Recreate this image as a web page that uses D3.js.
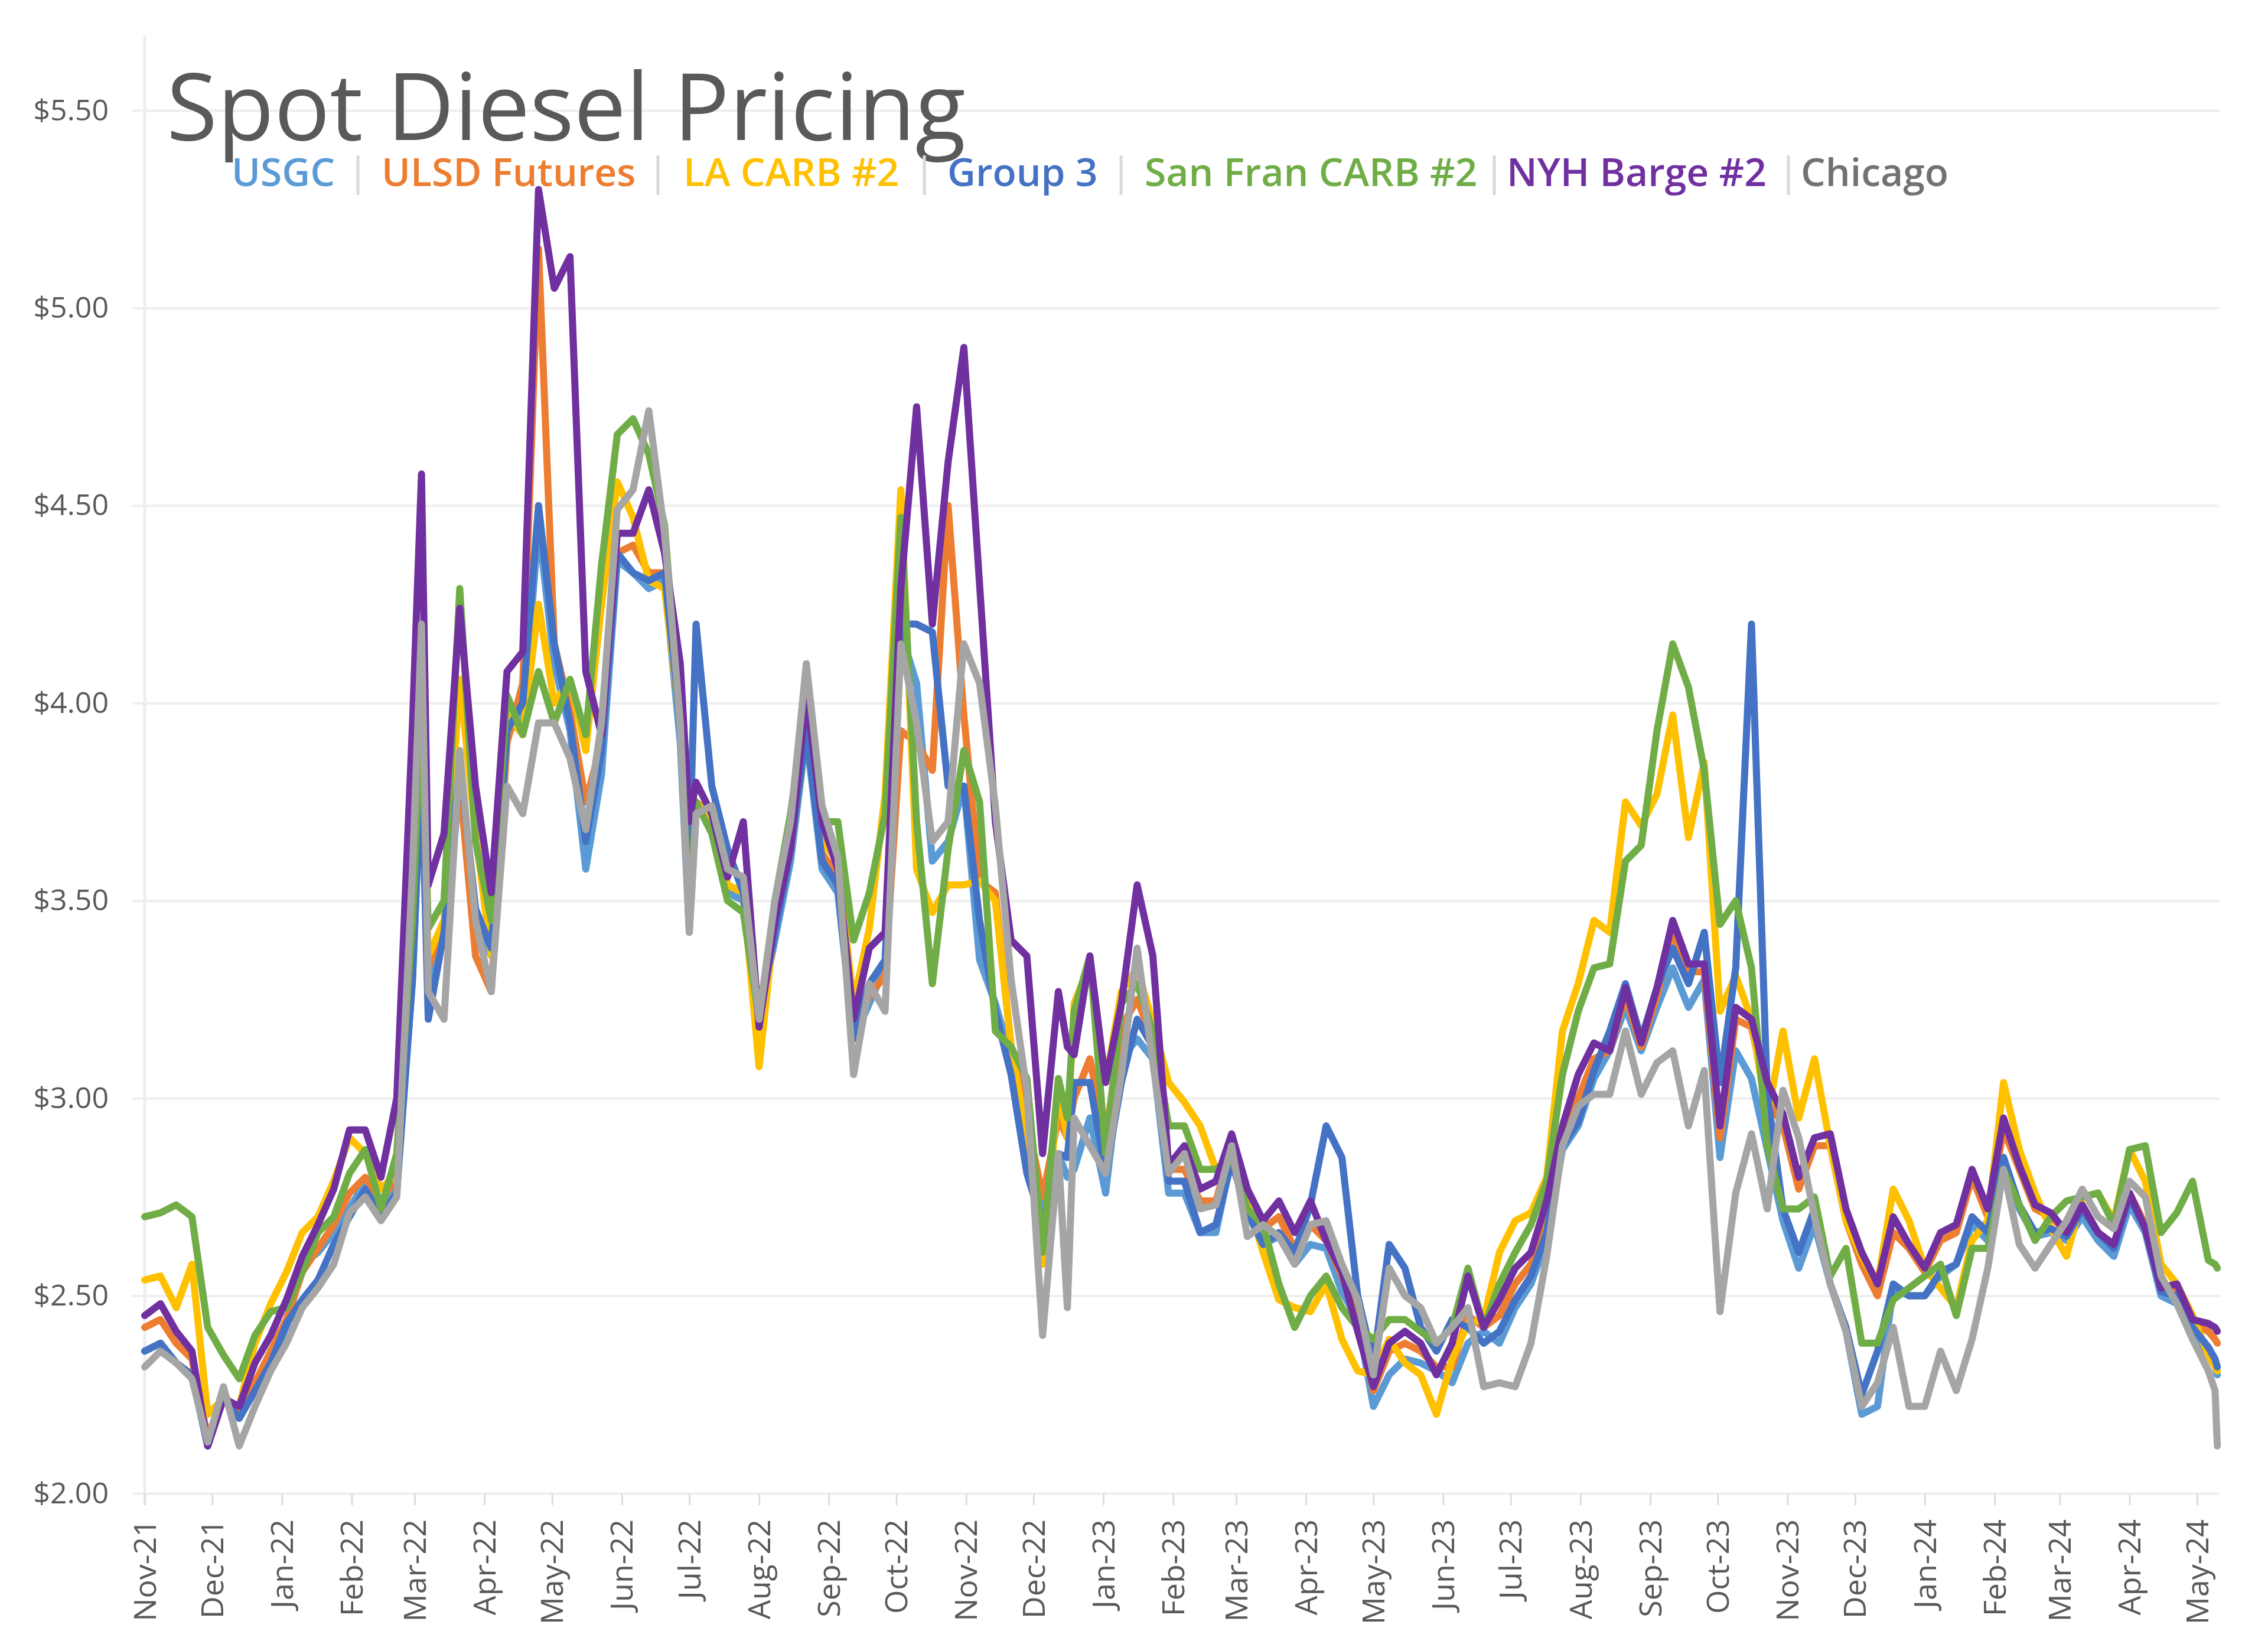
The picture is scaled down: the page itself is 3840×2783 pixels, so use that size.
<!DOCTYPE html>
<html>
<head>
<meta charset="utf-8">
<script src="https://cdn.jsdelivr.net/npm/d3@7"></script>
<style>
  body { margin: 0; background: #fff; }
  svg { display: block; }
</style>
</head>
<body>
<div id="chart"></div>
<script>
// weekly spot prices ($/gal)
const dates = [
  "2021-11-01","2021-11-08","2021-11-15","2021-11-22","2021-11-29",
  "2021-12-06","2021-12-13","2021-12-20","2021-12-27",
  "2022-01-03","2022-01-10","2022-01-17","2022-01-24","2022-01-31",
  "2022-02-07","2022-02-14","2022-02-21","2022-02-28",
  "2022-03-04","2022-03-07","2022-03-14","2022-03-21","2022-03-28",
  "2022-04-04","2022-04-11","2022-04-18","2022-04-25",
  "2022-05-02","2022-05-09","2022-05-16","2022-05-23","2022-05-30",
  "2022-06-06","2022-06-13","2022-06-20","2022-06-27",
  "2022-07-01","2022-07-04","2022-07-11","2022-07-18","2022-07-25",
  "2022-08-01","2022-08-08","2022-08-15","2022-08-22","2022-08-29",
  "2022-09-05","2022-09-12","2022-09-19","2022-09-26",
  "2022-10-03","2022-10-10","2022-10-17","2022-10-24","2022-10-31",
  "2022-11-07","2022-11-14","2022-11-21","2022-11-28",
  "2022-12-05","2022-12-12","2022-12-16","2022-12-19","2022-12-26",
  "2023-01-02","2023-01-09","2023-01-16","2023-01-23","2023-01-30",
  "2023-02-06","2023-02-13","2023-02-20","2023-02-27",
  "2023-03-06","2023-03-13","2023-03-20","2023-03-27",
  "2023-04-03","2023-04-10","2023-04-17","2023-04-24",
  "2023-05-01","2023-05-08","2023-05-15","2023-05-22","2023-05-29",
  "2023-06-05","2023-06-12","2023-06-19","2023-06-26",
  "2023-07-03","2023-07-10","2023-07-17","2023-07-24","2023-07-31",
  "2023-08-07","2023-08-14","2023-08-21","2023-08-28",
  "2023-09-04","2023-09-11","2023-09-18","2023-09-25",
  "2023-10-02","2023-10-09","2023-10-16","2023-10-23","2023-10-30",
  "2023-11-06","2023-11-13","2023-11-20","2023-11-27",
  "2023-12-04","2023-12-11","2023-12-18","2023-12-25",
  "2024-01-01","2024-01-08","2024-01-15","2024-01-22","2024-01-29",
  "2024-02-05","2024-02-12","2024-02-19","2024-02-26",
  "2024-03-04","2024-03-11","2024-03-18","2024-03-25",
  "2024-04-01","2024-04-08","2024-04-15","2024-04-22","2024-04-29",
  "2024-05-06","2024-05-09","2024-05-10"
];

const usgc = [
  2.36,2.38,2.33,2.30,2.12,
  2.24,2.19,2.26,2.33,
  2.42,2.58,2.61,2.66,2.72,
  2.79,2.72,2.78,3.30,
  3.85,3.29,3.40,3.79,3.45,
  3.36,3.93,3.95,4.45,
  4.10,3.93,3.58,3.82,4.36,
  4.33,4.29,4.31,3.90,
  3.42,3.72,3.72,3.52,3.50,
  3.20,3.40,3.60,3.92,3.58,
  3.52,3.15,3.24,3.33,
  4.18,4.05,3.60,3.65,3.79,
  3.35,3.24,3.10,2.83,
  2.72,2.86,2.80,2.82,2.95,
  2.76,3.10,3.15,3.10,2.76,
  2.76,2.66,2.66,2.85,
  2.71,2.63,2.65,2.58,
  2.63,2.62,2.51,2.44,
  2.22,2.30,2.34,2.33,2.31,
  2.28,2.38,2.41,2.38,
  2.47,2.53,2.64,2.87,2.93,
  3.05,3.12,3.23,3.12,
  3.23,3.33,3.23,3.30,
  2.85,3.12,3.05,2.87,2.69,
  2.57,2.68,2.53,2.41,
  2.20,2.22,2.52,2.50,
  2.50,2.55,2.58,2.68,2.64,
  2.85,2.72,2.65,2.66,
  2.64,2.70,2.64,2.60,
  2.73,2.66,2.50,2.48,2.40,
  2.35,2.32,2.30
];

const ulsdFutures = [
  2.42,2.44,2.38,2.34,2.14,
  2.25,2.20,2.28,2.36,
  2.44,2.56,2.62,2.68,2.76,
  2.80,2.74,2.80,3.35,
  3.90,3.33,3.45,3.80,3.36,
  3.27,3.90,4.05,5.15,
  4.15,3.98,3.75,3.90,4.38,
  4.40,4.33,4.33,3.95,
  3.45,3.75,3.72,3.54,3.52,
  3.22,3.45,3.63,3.95,3.62,
  3.56,3.17,3.26,3.31,
  3.93,3.90,3.83,4.50,3.97,
  3.55,3.52,3.13,2.95,
  2.75,2.95,2.90,3.00,3.10,
  2.90,3.18,3.25,3.15,2.82,
  2.82,2.74,2.74,2.88,
  2.74,2.67,2.70,2.62,
  2.68,2.64,2.55,2.44,
  2.26,2.36,2.38,2.36,2.32,
  2.32,2.45,2.42,2.45,
  2.53,2.58,2.70,2.90,3.00,
  3.10,3.12,3.26,3.13,
  3.26,3.42,3.32,3.32,
  2.90,3.20,3.18,3.00,2.93,
  2.77,2.88,2.88,2.69,
  2.58,2.50,2.66,2.62,
  2.56,2.64,2.66,2.80,2.70,
  2.92,2.82,2.72,2.70,
  2.66,2.73,2.66,2.63,
  2.76,2.68,2.52,2.52,2.43,
  2.41,2.39,2.38
];

const laCarb = [
  2.54,2.55,2.47,2.58,2.20,
  2.24,2.22,2.38,2.48,
  2.56,2.66,2.70,2.79,2.90,
  2.86,2.77,2.81,3.40,
  3.90,3.36,3.45,4.06,3.67,
  3.36,3.97,3.92,4.25,
  4.00,4.06,3.88,4.25,4.56,
  4.47,4.31,4.29,3.95,
  3.45,3.75,3.70,3.54,3.52,
  3.08,3.45,3.63,3.93,3.65,
  3.60,3.24,3.43,3.77,
  4.54,3.58,3.47,3.54,3.54,
  3.55,3.50,3.13,2.90,
  2.58,3.02,2.90,3.24,3.34,
  3.04,3.27,3.33,3.19,3.04,
  2.99,2.93,2.82,2.85,
  2.74,2.61,2.49,2.47,
  2.46,2.53,2.39,2.31,
  2.30,2.39,2.33,2.30,2.20,
  2.34,2.43,2.44,2.61,
  2.69,2.71,2.80,3.17,3.29,
  3.45,3.42,3.75,3.69,
  3.77,3.97,3.66,3.85,
  3.22,3.31,3.20,2.95,3.17,
  2.95,3.10,2.88,2.69,
  2.60,2.53,2.77,2.69,
  2.57,2.52,2.47,2.64,2.69,
  3.04,2.87,2.76,2.67,
  2.60,2.75,2.76,2.69,
  2.87,2.79,2.58,2.53,2.45,
  2.35,2.32,2.31
];

const group3 = [
  2.36,2.38,2.33,2.30,2.12,
  2.24,2.19,2.26,2.33,
  2.43,2.49,2.54,2.63,2.70,
  2.77,2.70,2.76,3.30,
  3.85,3.20,3.42,3.85,3.48,
  3.38,3.93,4.00,4.50,
  4.15,3.95,3.65,3.88,4.38,
  4.33,4.31,4.33,3.95,
  3.60,4.20,3.79,3.63,3.52,
  3.20,3.42,3.63,3.93,3.60,
  3.54,3.15,3.29,3.35,
  4.20,4.20,4.18,3.79,3.79,
  3.45,3.22,3.06,2.81,
  2.68,2.86,2.85,3.04,3.04,
  2.81,3.04,3.20,3.13,2.79,
  2.79,2.66,2.68,2.84,
  2.71,2.63,2.66,2.61,
  2.73,2.93,2.85,2.50,
  2.33,2.63,2.57,2.42,2.36,
  2.44,2.42,2.38,2.41,
  2.49,2.55,2.66,2.88,2.94,
  3.07,3.17,3.29,3.15,
  3.28,3.38,3.29,3.42,
  3.04,3.33,4.20,3.01,2.72,
  2.61,2.72,2.53,2.42,
  2.25,2.36,2.53,2.50,
  2.50,2.56,2.58,2.70,2.66,
  2.85,2.73,2.66,2.67,
  2.65,2.72,2.66,2.62,
  2.75,2.67,2.51,2.50,2.42,
  2.37,2.34,2.32
];

const sanFranCarb = [
  2.70,2.71,2.73,2.70,2.42,
  2.35,2.29,2.40,2.46,
  2.47,2.56,2.66,2.70,2.81,
  2.87,2.72,2.86,3.45,
  4.00,3.43,3.50,4.29,3.65,
  3.45,4.02,3.92,4.08,
  3.95,4.06,3.92,4.35,4.68,
  4.72,4.63,4.45,3.95,
  3.45,3.75,3.67,3.50,3.47,
  3.20,3.50,3.72,4.02,3.70,
  3.70,3.40,3.52,3.72,
  4.47,3.70,3.29,3.63,3.88,
  3.75,3.17,3.13,3.05,
  2.61,3.05,2.95,3.22,3.36,
  2.86,3.24,3.29,3.17,2.93,
  2.93,2.82,2.82,2.85,
  2.72,2.68,2.53,2.42,
  2.50,2.55,2.47,2.42,
  2.39,2.44,2.44,2.41,2.38,
  2.42,2.57,2.42,2.53,
  2.61,2.68,2.79,3.06,3.22,
  3.33,3.34,3.60,3.64,
  3.93,4.15,4.04,3.83,
  3.44,3.50,3.33,2.88,2.72,
  2.72,2.75,2.55,2.62,
  2.38,2.38,2.49,2.52,
  2.55,2.58,2.45,2.62,2.62,
  2.82,2.73,2.64,2.70,
  2.74,2.75,2.76,2.68,
  2.87,2.88,2.66,2.71,2.79,
  2.59,2.58,2.57
];

const nyhBarge = [
  2.45,2.48,2.41,2.36,2.12,
  2.24,2.22,2.33,2.40,
  2.49,2.60,2.68,2.77,2.92,
  2.92,2.80,3.00,3.95,
  4.58,3.54,3.67,4.24,3.79,
  3.52,4.08,4.13,5.30,
  5.05,5.13,4.08,3.92,4.43,
  4.43,4.54,4.38,4.10,
  3.70,3.80,3.72,3.56,3.70,
  3.18,3.45,3.63,4.02,3.70,
  3.58,3.20,3.38,3.42,
  4.29,4.75,4.20,4.61,4.90,
  4.30,3.70,3.40,3.36,
  2.86,3.27,3.13,3.11,3.36,
  3.04,3.24,3.54,3.36,2.83,
  2.88,2.77,2.79,2.91,
  2.77,2.69,2.74,2.66,
  2.74,2.64,2.56,2.41,
  2.27,2.38,2.41,2.38,2.30,
  2.38,2.55,2.42,2.49,
  2.57,2.61,2.74,2.93,3.06,
  3.14,3.12,3.28,3.14,
  3.28,3.45,3.34,3.34,
  2.93,3.23,3.20,3.04,2.96,
  2.80,2.90,2.91,2.72,
  2.61,2.53,2.70,2.63,
  2.57,2.66,2.68,2.82,2.72,
  2.95,2.83,2.73,2.71,
  2.66,2.73,2.66,2.63,
  2.76,2.67,2.52,2.53,2.44,
  2.43,2.42,2.41
];

const chicago = [
  2.32,2.36,2.33,2.29,2.13,
  2.27,2.12,2.22,2.31,
  2.38,2.47,2.52,2.58,2.71,
  2.75,2.69,2.75,3.58,
  4.20,3.27,3.20,3.88,3.45,
  3.27,3.79,3.72,3.95,
  3.95,3.86,3.68,3.95,4.49,
  4.54,4.74,4.43,3.95,
  3.42,3.72,3.74,3.58,3.56,
  3.20,3.50,3.70,4.10,3.74,
  3.61,3.06,3.29,3.22,
  4.15,3.95,3.65,3.70,4.15,
  4.05,3.74,3.30,3.02,
  2.40,2.86,2.47,2.95,2.88,
  2.81,3.06,3.38,3.09,2.81,
  2.86,2.72,2.73,2.88,
  2.65,2.68,2.65,2.58,
  2.68,2.69,2.58,2.49,
  2.30,2.57,2.50,2.47,2.38,
  2.42,2.47,2.27,2.28,
  2.27,2.38,2.60,2.88,2.98,
  3.01,3.01,3.17,3.01,
  3.09,3.12,2.93,3.07,
  2.46,2.76,2.91,2.72,3.02,
  2.90,2.70,2.53,2.41,
  2.22,2.28,2.42,2.22,
  2.22,2.36,2.26,2.39,2.57,
  2.82,2.63,2.57,2.63,
  2.69,2.77,2.70,2.67,
  2.79,2.75,2.55,2.48,2.39,
  2.31,2.26,2.12
];

const seriesNames = ["USGC", "ULSD Futures", "LA CARB #2", "Group 3", "San Fran CARB #2", "NYH Barge #2", "Chicago"];
const seriesValues = [usgc, ulsdFutures, laCarb, group3, sanFranCarb, nyhBarge, chicago];
const seriesColors = ["#5B9BD5", "#ED7D31", "#FFC000", "#4472C4", "#70AD47", "#7030A0", "#A5A5A5"];
const yTicks = [2.0, 2.5, 3.0, 3.5, 4.0, 4.5, 5.0, 5.5];

const W = 3840, H = 2783;
const textGray = "#595959";
const gridGray = "#eeeeee";
const fontStack = "'Open Sans', 'Noto Sans', sans-serif";

const parse = d3.utcParse("%Y-%m-%d");
const parsedDates = dates.map(parse);

seriesValues.forEach(function (arr, i) {
    if (arr.length !== dates.length) console.error(seriesNames[i] + " has " + arr.length + " values");
});

const x = d3.scaleUtc()
    .domain([parse("2021-11-01"), parse("2024-05-11")])
    .range([245, 3758]);
const y = d3.scaleLinear()
    .domain([2, 5.5])
    .range([2528, 187]);

const svg = d3.select("#chart").append("svg")
    .attr("width", W)
    .attr("height", H)
    .style("font-family", fontStack);

// horizontal gridlines + y labels
const yAxis = svg.append("g")
    .attr("transform", "translate(224,0)")
    .call(d3.axisLeft(y)
        .tickValues(yTicks)
        .tickSize(-(3758 - 224))
        .tickPadding(40)
        .tickFormat(d3.format("$.2f")));
yAxis.attr("font-family", null);
yAxis.select(".domain").remove();
yAxis.selectAll(".tick line").attr("stroke", gridGray).attr("stroke-width", 4);
yAxis.selectAll(".tick text")
    .attr("fill", textGray)
    .style("font-family", fontStack)
    .style("font-size", "50px");

// vertical axis line
svg.append("line")
    .attr("x1", 245).attr("x2", 245)
    .attr("y1", 60).attr("y2", 2548)
    .attr("stroke", gridGray)
    .attr("stroke-width", 5);

// month ticks along the bottom
const months = d3.utcMonth.range(parse("2021-11-01"), parse("2024-05-02"));
const xAxis = svg.append("g")
    .attr("transform", "translate(0,2528)")
    .call(d3.axisBottom(x)
        .tickValues(months)
        .tickSize(20)
        .tickFormat(d3.utcFormat("%b-%y")));
xAxis.attr("font-family", null);
xAxis.select(".domain").remove();
xAxis.selectAll(".tick line").attr("stroke", "#dddddd").attr("stroke-width", 3);
xAxis.selectAll(".tick text")
    .attr("fill", textGray)
    .style("font-family", fontStack)
    .style("font-size", "52px")
    .attr("transform", "rotate(-90)")
    .attr("x", -44)
    .attr("y", 0)
    .attr("dy", "0.35em")
    .style("text-anchor", "end");

// title
svg.append("text")
    .attr("x", 282)
    .attr("y", 237)
    .attr("fill", textGray)
    .style("font-size", "157px")
    .text("Spot Diesel Pricing");

// legend line of coloured names with thin separators
const legendX = [392, 646, 1157, 1604, 1938, 2551, 3049];
const sepX = [606, 1114, 1565, 1898, 2530, 3028];
const legend = svg.append("g");
legend.selectAll("text")
    .data(seriesNames)
    .enter().append("text")
    .attr("x", function (d, i) { return legendX[i]; })
    .attr("y", 315)
    .attr("fill", function (d, i) { return i === 6 ? "#767171" : seriesColors[i]; })
    .style("font-size", "66px")
    .style("font-weight", 600)
    .text(function (d) { return d; });
legend.selectAll("line")
    .data(sepX)
    .enter().append("line")
    .attr("x1", function (d) { return d; })
    .attr("x2", function (d) { return d; })
    .attr("y1", 263).attr("y2", 330)
    .attr("stroke", "#d9d9d9")
    .attr("stroke-width", 5);

// the seven price lines, Chicago drawn last
const line = d3.line()
    .x(function (d) { return x(d.date); })
    .y(function (d) { return y(d.v); });

seriesValues.forEach(function (vals, i) {
    const pts = vals.map(function (v, j) { return { date: parsedDates[j], v: v }; });
    svg.append("path")
        .datum(pts)
        .attr("fill", "none")
        .attr("stroke", seriesColors[i])
        .attr("stroke-width", 12)
        .attr("stroke-linejoin", "round")
        .attr("stroke-linecap", "round")
        .attr("d", line);
});
</script>
</body>
</html>
